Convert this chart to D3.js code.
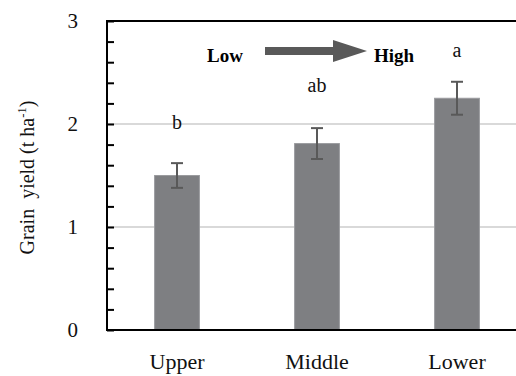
<!DOCTYPE html>
<html>
<head>
<meta charset="utf-8">
<script src="https://cdn.jsdelivr.net/npm/d3@7"></script>
</head>
<body style="margin:0;background:#fff">
<div id="chart"></div>
<script>
const categories = ['Upper', 'Middle', 'Lower'];
const yieldMean = [1.50, 1.81, 2.25];
const yieldErr = [0.12, 0.15, 0.16];
const letters = ['b', 'ab', 'a'];
// baseline of each letter, in yield units
const letterAt = [1.95, 2.31, 2.65];
const majorTicks = [0, 1, 2, 3];

const width = 516, height = 376;
const plot = { left: 107, right: 527, top: 21, bottom: 330 };
const FONT = "'Liberation Serif'";
// the serif face renders reliably at 19px here, so bigger text is scaled up from it
const BASE = 19;

const svg = d3.select('#chart').append('svg')
  .attr('width', width)
  .attr('height', height)
  .style('display', 'block');

function label(parent, tx, ty, size, anchor, rotate) {
  const g = parent.append('g')
    .attr('transform', `translate(${tx},${ty})${rotate ? ` rotate(${rotate})` : ''} scale(${size / BASE})`);
  return g.append('text')
    .attr('text-anchor', anchor)
    .attr('font-size', BASE)
    .attr('fill', '#111')
    .style('font-family', FONT);
}

const x = d3.scaleBand()
  .domain(categories)
  .range([plot.left, plot.right])
  .paddingInner(0.68)
  .paddingOuter(0.34);

const y = d3.scaleLinear()
  .domain([0, 3])
  .range([plot.bottom, plot.top]);

// gridlines
svg.append('g')
  .selectAll('line')
  .data([1, 2])
  .enter()
  .append('line')
  .attr('x1', plot.left)
  .attr('x2', width)
  .attr('y1', d => y(d))
  .attr('y2', d => y(d))
  .attr('stroke', '#d9d9d9')
  .attr('stroke-width', 2);

// bars
const data = categories.map((c, i) => ({ cat: c, v: yieldMean[i], e: yieldErr[i], l: letters[i], ly: letterAt[i] }));
svg.append('g')
  .selectAll('rect')
  .data(data)
  .enter()
  .append('rect')
  .attr('x', d => x(d.cat))
  .attr('y', d => y(d.v))
  .attr('width', x.bandwidth())
  .attr('height', d => y(0) - y(d.v))
  .attr('fill', '#7e7f82')
  .attr('stroke', '#9a9b9e')
  .attr('stroke-width', 1);

// error bars
const eb = svg.append('g')
  .attr('stroke', '#595959')
  .attr('stroke-width', 2);
data.forEach(d => {
  const cx = x(d.cat) + x.bandwidth() / 2;
  eb.append('line').attr('x1', cx).attr('x2', cx).attr('y1', y(d.v + d.e)).attr('y2', y(d.v - d.e));
  eb.append('line').attr('x1', cx - 6).attr('x2', cx + 6).attr('y1', y(d.v + d.e)).attr('y2', y(d.v + d.e));
  eb.append('line').attr('x1', cx - 6).attr('x2', cx + 6).attr('y1', y(d.v - d.e)).attr('y2', y(d.v - d.e));
});

// significance letters
const lettersG = svg.append('g');
data.forEach(d => {
  label(lettersG, x(d.cat) + x.bandwidth() / 2, y(d.ly), 20, 'middle').text(d.l);
});

// y axis with inside minor ticks
const yAxis = d3.axisRight(y)
  .tickValues(d3.range(0, 3.01, 0.2).map(v => +v.toFixed(1)))
  .tickSize(7)
  .tickFormat('');
const ya = svg.append('g')
  .attr('transform', `translate(${plot.left},0)`)
  .call(yAxis);
ya.select('.domain').remove();
ya.selectAll('line').attr('stroke', '#000').attr('stroke-width', 2);

const yLabels = svg.append('g');
majorTicks.forEach(t => {
  label(yLabels, 78, y(t) + 7, 21, 'end').text(t);
});

// frame lines
svg.append('line').attr('x1', plot.left).attr('x2', plot.left).attr('y1', plot.top - 1).attr('y2', plot.bottom + 1)
  .attr('stroke', '#000').attr('stroke-width', 2);
svg.append('line').attr('x1', plot.left).attr('x2', width).attr('y1', plot.top).attr('y2', plot.top)
  .attr('stroke', '#000').attr('stroke-width', 2);
svg.append('line').attr('x1', plot.left).attr('x2', width).attr('y1', plot.bottom).attr('y2', plot.bottom)
  .attr('stroke', '#000').attr('stroke-width', 2);

// x labels
const xLabels = svg.append('g');
categories.forEach(c => {
  label(xLabels, x(c) + x.bandwidth() / 2, 369, 22, 'middle').text(c);
});

// y title
const yt = label(svg, 34, (plot.top + plot.bottom) / 2 + 2, 20, 'middle', -90);
yt.append('tspan').text('Grain\u00a0 yield (t ha');
yt.append('tspan').attr('font-size', 12).attr('dy', -8).text('-1');
yt.append('tspan').attr('dy', 8).text(')');

// Low -> High arrow
label(svg, 207, 62, 19, 'start').attr('font-weight', 'bold').attr('fill', '#000').text('Low');
label(svg, 374, 62, 19, 'start').attr('font-weight', 'bold').attr('fill', '#000').text('High');
const ay = 51;
svg.append('path')
  .attr('d', `M265,${ay - 4}L333,${ay - 4}L333,${ay - 11}L367,${ay}L333,${ay + 11}L333,${ay + 4}L265,${ay + 4}Z`)
  .attr('fill', '#595959');
</script>
</body>
</html>
